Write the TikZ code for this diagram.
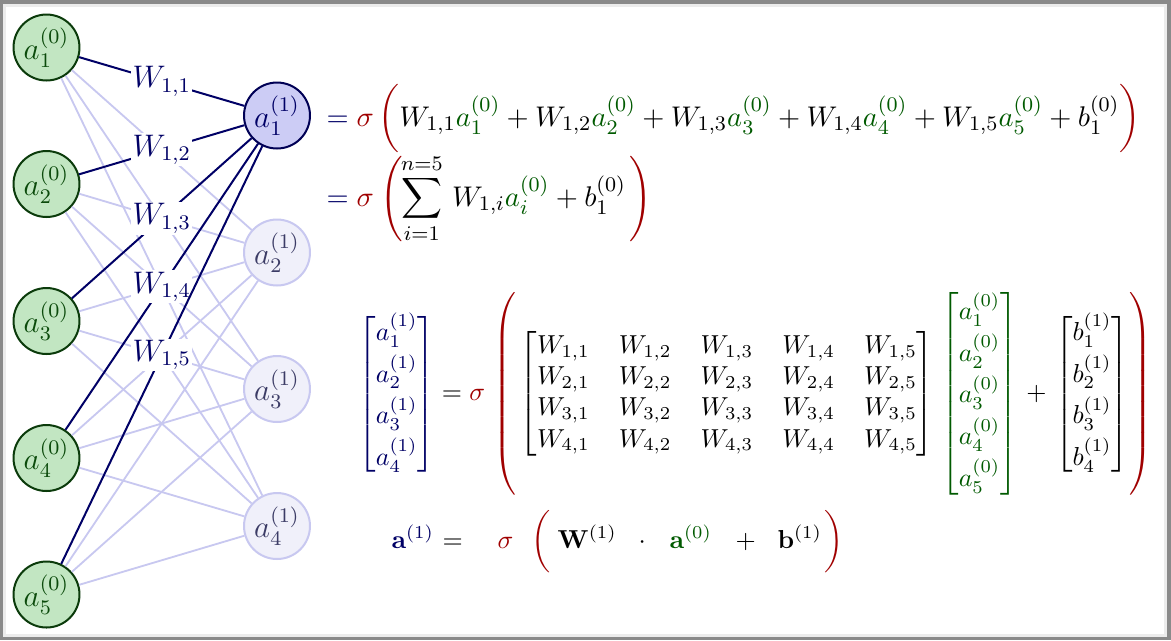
\documentclass[tikz,border=0pt]{standalone}
\usepackage{amsmath}
\definecolor{ingreenfill}{HTML}{C2E6C2}
\definecolor{ingreendraw}{HTML}{0B3B0B}
\definecolor{intext}{HTML}{0B4A0B}
\definecolor{outfill}{HTML}{CCCCF5}
\definecolor{outdraw}{HTML}{000055}
\definecolor{fadefill}{HTML}{F0F0FA}
\definecolor{fadedraw}{HTML}{C8C8F0}
\definecolor{fadetext}{HTML}{3C3C66}
\definecolor{navyc}{HTML}{000066}
\definecolor{sigred}{HTML}{A00000}
\definecolor{eqgreen}{HTML}{005A00}
\definecolor{framegray}{HTML}{8A8A8A}
\definecolor{framelight}{HTML}{ECECEC}
\newcommand{\ingr}[1]{\textcolor{eqgreen}{#1}}
\newcommand{\redopen}[1]{\textcolor{sigred}{\left(\vphantom{#1}\right.}}
\newcommand{\redclose}[1]{\textcolor{sigred}{\left.\vphantom{#1}\right)}}
\newcommand{\greenvec}{\begin{bmatrix} a_1^{(0)}\\[2pt] a_2^{(0)}\\[2pt] a_3^{(0)}\\[2pt] a_4^{(0)}\\[2pt] a_5^{(0)}\end{bmatrix}}
\tikzset{
  innode/.style={circle, minimum size=25.4pt, inner sep=0pt, draw=ingreendraw, fill=ingreenfill, line width=0.77pt, text=intext, font=\large},
  outnode/.style={circle, minimum size=25.4pt, inner sep=0pt, draw=outdraw, fill=outfill, line width=0.77pt, text=navyc, font=\large},
  fadenode/.style={circle, minimum size=25.4pt, inner sep=0pt, draw=fadedraw, fill=fadefill, line width=0.77pt, text=fadetext, font=\large},
  lightedge/.style={draw=fadedraw, line width=0.7pt},
  strongedge/.style={draw=navyc, line width=0.77pt},
  wlabel/.style={fill=white, inner sep=0.5pt, text=navyc, font=\large},
  eqnode/.style={inner sep=0pt, anchor=base west},
  bigeq/.style={eqnode, font=\fontsize{10.95}{13.6}\selectfont},
  widereq/.style={eqnode, font=\fontsize{11.15}{13.8}\selectfont}
}
\begin{document}
\begin{tikzpicture}[x=0.385pt,y=-0.385pt]
\useasboundingbox (0,0) rectangle (1171,640);
\fill[framegray] (0,0) rectangle (1171,640);
\fill[framelight] (3,4) rectangle (1167,637);
\fill[white] (6,7) rectangle (1164,634);
% input layer
\node[innode] (i1) at (46.5,47.5) {$a_1^{(0)}$};
\node[innode] (i2) at (46.5,184) {$a_2^{(0)}$};
\node[innode] (i3) at (46.5,321) {$a_3^{(0)}$};
\node[innode] (i4) at (46.5,458) {$a_4^{(0)}$};
\node[innode] (i5) at (46.5,594.5) {$a_5^{(0)}$};
% output layer
\node[outnode] (o1) at (277,115.5) {$a_1^{(1)}$};
\node[fadenode] (o2) at (277,252.5) {$a_2^{(1)}$};
\node[fadenode] (o3) at (277,389) {$a_3^{(1)}$};
\node[fadenode] (o4) at (277,526) {$a_4^{(1)}$};
% faded edges
\foreach \i in {1,...,5}{
  \foreach \j in {2,3,4}{
    \draw[lightedge] (i\i) -- (o\j);
  }
}
% strong edges
\foreach \i in {1,...,5}{
  \draw[strongedge] (i\i) -- node[wlabel, pos=0.5] {$W_{1,\i}$} (o1);
}
% equations
\node[widereq] (eqa) at (326,126) {$\textcolor{navyc}{=}\;\textcolor{sigred}{\sigma}\mkern3mu\textcolor{sigred}{\bigg(}W_{1,1}\ingr{a_1^{(0)}}+W_{1,2}\ingr{a_2^{(0)}}+W_{1,3}\ingr{a_3^{(0)}}+W_{1,4}\ingr{a_4^{(0)}}+W_{1,5}\ingr{a_5^{(0)}}+b_1^{(0)}\textcolor{sigred}{\bigg)}$};
\node[bigeq] (eqb) at (326,206) {$\displaystyle\textcolor{navyc}{=}\;\textcolor{sigred}{\sigma}\mkern4mu\redopen{\sum_{i=1}^{n=5}}\mkern-6mu\sum_{i=1}^{n=5}\mkern3mu W_{1,i}\ingr{a_i^{(0)}}+b_1^{(0)}\redclose{\sum_{i=1}^{n=5}}$};
\node[inner sep=0pt, anchor=west] (eqm) at (358,394) {$\textcolor{navyc}{\begin{bmatrix} a_1^{(1)}\\[2pt] a_2^{(1)}\\[2pt] a_3^{(1)}\\[2pt] a_4^{(1)}\end{bmatrix}}=\textcolor{sigred}{\sigma}\mkern6mu\redopen{\greenvec}{\setlength{\arraycolsep}{5.6pt}\begin{bmatrix}
W_{1,1} & W_{1,2} & W_{1,3} & W_{1,4} & W_{1,5}\\
W_{2,1} & W_{2,2} & W_{2,3} & W_{2,4} & W_{2,5}\\
W_{3,1} & W_{3,2} & W_{3,3} & W_{3,4} & W_{3,5}\\
W_{4,1} & W_{4,2} & W_{4,3} & W_{4,4} & W_{4,5}
\end{bmatrix}}\mkern5mu\ingr{\greenvec}\mkern2mu+\mkern2mu\begin{bmatrix} b_1^{(1)}\\[2pt] b_2^{(1)}\\[2pt] b_3^{(1)}\\[2pt] b_4^{(1)}\end{bmatrix}\mkern-5mu\redclose{\greenvec}$};
% vector form
\node[eqnode] (va) at (391,548) {$\textcolor{navyc}{\mathbf{a}^{(1)}}$};
\node[eqnode] (veq) at (442,548) {$=$};
\node[eqnode] (vsig) at (497,548) {$\textcolor{sigred}{\sigma}$};
\node[eqnode] (vop) at (531,548) {$\textcolor{sigred}{\bigg(}$};
\node[eqnode] (vW) at (557,548) {$\mathbf{W}^{(1)}$};
\node[eqnode] (vdot) at (638,548) {$\cdot$};
\node[eqnode] (va0) at (669,548) {$\ingr{\mathbf{a}^{(0)}}$};
\node[eqnode] (vplus) at (735,548) {$+$};
\node[eqnode] (vb) at (777,548) {$\mathbf{b}^{(1)}$};
\node[eqnode] (vcl) at (824,548) {$\textcolor{sigred}{\bigg)}$};
\end{tikzpicture}
\end{document}
